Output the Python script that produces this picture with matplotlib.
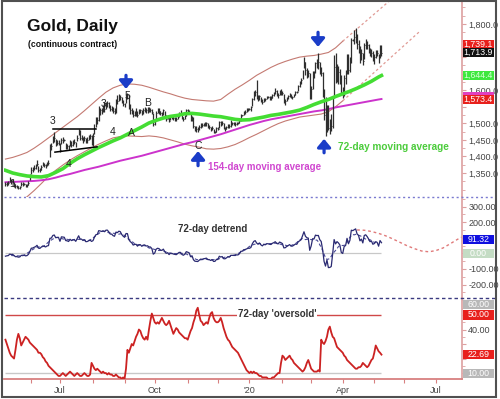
import numpy as np
import pandas as pd
import matplotlib
matplotlib.use('Agg')
import matplotlib.pyplot as plt
from matplotlib.patches import Rectangle
from matplotlib.lines import Line2D
from matplotlib.ticker import FixedLocator, FuncFormatter, MultipleLocator

plt.rcParams['font.family'] = ['Liberation Sans', 'DejaVu Sans']

# trading days on the chart (continuous contract) plus room for the projections
days = pd.bdate_range('2019-05-08', '2020-07-31')

# daily closes, one row per month (May 2019 .. May 2020)
close = ([1316, 1318, 1319, 1328, 1325, 1326, 1318, 1310, 1310, 1306, 1307, 1316, 1317, 1317, 1312, 1313, 1320, 1337]
         + [1359, 1360, 1365, 1369, 1378, 1360, 1359, 1368, 1376, 1374, 1371, 1378, 1381, 1429, 1432, 1450, 1455, 1439, 1442, 1443]
         + [1420, 1450, 1450, 1450, 1430, 1430, 1427, 1443, 1436, 1442, 1444, 1436, 1456, 1475, 1456, 1457, 1450, 1456, 1446, 1449, 1456, 1462, 1456]
         + [1463, 1487, 1506, 1511, 1538, 1539, 1539, 1547, 1544, 1557, 1561, 1553, 1542, 1545, 1538, 1537, 1567, 1567, 1580, 1581, 1567, 1559]
         + [1555, 1583, 1586, 1551, 1541, 1537, 1525, 1531, 1535, 1525, 1537, 1539, 1531, 1541, 1545, 1540, 1544, 1539, 1541, 1533, 1498]
         + [1506, 1532, 1539, 1538, 1530, 1529, 1539, 1524, 1514, 1519, 1508, 1519, 1518, 1515, 1514, 1513, 1521, 1530, 1531, 1518, 1514, 1522, 1539]
         + [1537, 1534, 1510, 1517, 1492, 1483, 1482, 1481, 1489, 1496, 1494, 1497, 1498, 1500, 1490, 1489, 1482, 1487, 1474, 1474, 1485]
         + [1484, 1504, 1498, 1500, 1485, 1483, 1488, 1495, 1491, 1501, 1500, 1500, 1498, 1502, 1501, 1508, 1524, 1524, 1534, 1535, 1539, 1543]
         + [1543, 1548, 1572, 1588, 1594, 1580, 1573, 1582, 1570, 1564, 1574, 1572, 1580, 1580, 1578, 1577, 1586, 1591, 1598, 1588, 1586, 1599, 1596]
         + [1591, 1564, 1566, 1575, 1582, 1588, 1579, 1580, 1587, 1595, 1595, 1613, 1621, 1630, 1658, 1686, 1660, 1652, 1652, 1575]
         + [1604, 1653, 1654, 1681, 1681, 1685, 1660, 1651, 1599, 1525, 1495, 1535, 1486, 1487, 1493, 1576, 1669, 1643, 1660, 1654, 1643, 1596]
         + [1591, 1637, 1645, 1693, 1660, 1684, 1752, 1752, 1761, 1769, 1739, 1731, 1698, 1711, 1688, 1738, 1745, 1736, 1723, 1707, 1713, 1694]
         + [1700, 1714, 1711, 1688, 1726, 1713.9])

# distance from close up to the high / down to the low
up = ([6, 5, 7, 9, 6, 5, 5, 7, 5, 6, 5, 8, 5, 3, 6, 5, 7, 10]
      + [8, 7, 9, 8, 10, 12, 7, 6, 8, 7, 6, 6, 7, 10, 10, 12, 20, 15, 9, 8]
      + [20, 6, 8, 3, 12, 9, 8, 7, 12, 9, 8, 9, 8, 8, 25, 9, 8, 7, 10, 9, 8, 7, 8]
      + [8, 10, 12, 8, 15, 8, 8, 8, 20, 8, 6, 10, 12, 8, 10, 8, 5, 19, 8, 5, 14, 12]
      + [5, 6, 6, 35, 16, 10, 14, 6, 10, 12, 6, 5, 8, 4, 3, 7, 4, 9, 5, 10, 34]
      + [6, 4, 6, 7, 8, 6, 5, 12, 10, 5, 10, 6, 6, 6, 6, 6, 6, 4, 8, 12, 6, 4, 4]
      + [7, 7, 25, 6, 26, 10, 10, 9, 5, 5, 6, 5, 6, 5, 10, 5, 8, 4, 10, 2, 3]
      + [6, 3, 8, 6, 15, 5, 4, 3, 8, 9, 5, 4, 5, 3, 4, 3, 3, 2, 4, 5, 6, 4]
      + [2, 4, 6, 10, 6, 51, 12, 4, 10, 9, 4, 6, 3, 2, 6, 6, 3, 4, 8, 12, 6, 3, 8]
      + [8, 24, 8, 4, 4, 3, 10, 4, 3, 3, 2, 3, 6, 6, 3, 14, 26, 15, 10, 76]
      + [10, 6, 4, 4, 12, 28, 25, 20, 55, 80, 85, 20, 70, 25, 34, 8, 38, 70, 20, 20, 20, 50]
      + [19, 10, 15, 15, 50, 15, 5, 2, 20, 19, 30, 20, 35, 15, 25, 5, 10, 14, 16, 20, 10, 25]
      + [10, 8, 10, 22, 10, 23])
dn = ([5, 6, 4, 6, 7, 5, 9, 6, 6, 5, 6, 4, 6, 3, 5, 6, 5, 8]
      + [12, 6, 7, 8, 7, 6, 6, 9, 6, 7, 6, 8, 6, 30, 12, 9, 10, 8, 8, 9]
      + [8, 12, 8, 3, 8, 7, 7, 10, 7, 9, 7, 8, 10, 9, 7, 8, 9, 10, 6, 8, 7, 9, 20]
      + [30, 18, 18, 12, 30, 14, 10, 12, 10, 15, 12, 8, 6, 8, 7, 10, 35, 10, 12, 10, 6, 6]
      + [5, 22, 12, 8, 14, 10, 5, 8, 12, 5, 8, 7, 7, 12, 12, 8, 12, 6, 8, 5, 6]
      + [10, 22, 7, 9, 5, 7, 13, 6, 6, 7, 5, 10, 6, 5, 6, 5, 8, 10, 6, 4, 6, 8, 18]
      + [9, 6, 4, 10, 5, 6, 8, 6, 8, 10, 6, 6, 6, 8, 4, 6, 4, 8, 3, 2, 11]
      + [5, 18, 6, 6, 3, 5, 6, 10, 5, 12, 5, 5, 5, 6, 4, 7, 16, 2, 10, 6, 5, 7]
      + [2, 10, 20, 18, 12, 8, 7, 12, 6, 6, 10, 6, 8, 2, 8, 6, 10, 8, 8, 5, 8, 12, 10]
      + [6, 3, 10, 9, 9, 9, 4, 8, 8, 8, 2, 14, 10, 10, 25, 20, 15, 15, 12, 3]
      + [30, 50, 17, 30, 15, 20, 10, 8, 20, 15, 34, 60, 6, 20, 15, 90, 93, 20, 35, 35, 25, 8]
      + [15, 55, 25, 45, 10, 30, 70, 2, 20, 25, 14, 20, 17, 20, 12, 45, 20, 12, 10, 5, 12, 6]
      + [20, 16, 8, 6, 30, 10])

# closes before the first bar (needed for the 72-day detrend)
pre_close = ([1343, 1351, 1357]
             + [1350, 1344, 1347, 1342, 1346, 1350, 1343, 1347, 1346, 1346, 1354, 1359, 1373, 1378, 1358, 1363, 1362, 1363, 1353, 1348]
             + [1330, 1323, 1319, 1320, 1318, 1332, 1324, 1331, 1344, 1329, 1337, 1336, 1336, 1337, 1344, 1348, 1354, 1348, 1342, 1327, 1330]
             + [1324, 1327, 1327, 1325, 1327, 1332, 1339, 1344, 1326, 1327, 1323, 1308, 1309, 1308, 1308, 1309, 1306, 1312, 1312, 1319, 1315, 1317]
             + [1316, 1302, 1313, 1314, 1318])

# weekly readings of the averages (every 5th bar) and the last value
ma72 = [1358, 1350, 1345, 1341, 1339, 1338, 1342, 1352, 1363, 1379, 1393, 1405, 1416, 1427, 1437, 1447, 1456, 1467,
        1478, 1489, 1501, 1509, 1516, 1521, 1524, 1529, 1530, 1528, 1525, 1522, 1520, 1516, 1512, 1510, 1511, 1515,
        1519, 1524, 1527, 1531, 1535, 1540, 1548, 1557, 1565, 1572, 1581, 1589, 1597, 1606, 1616, 1627, 1640, 1644.4]
ma154 = [1322, 1323, 1324, 1325, 1326, 1328, 1331, 1336, 1342, 1347, 1353, 1359, 1364, 1369, 1375, 1381, 1387, 1392,
         1397, 1402, 1408, 1414, 1420, 1426, 1432, 1438, 1443, 1449, 1455, 1461, 1467, 1474, 1481, 1488, 1495, 1501,
         1507, 1512, 1516, 1520, 1524, 1528, 1532, 1536, 1539, 1543, 1548, 1552, 1556, 1560, 1564, 1568, 1572, 1573.4]

# envelope (weekly readings up to Apr 1 2020) and its projection
env_upper = [1392, 1397, 1404, 1412, 1425, 1440, 1456, 1472, 1488, 1504, 1520, 1538, 1557, 1576, 1594, 1607,
             1615, 1619, 1618, 1615, 1609, 1602, 1595, 1589, 1582, 1576, 1572, 1570, 1568, 1567, 1572, 1588,
             1603, 1616, 1630, 1645, 1657, 1669, 1679, 1687, 1694, 1700, 1703, 1705, 1709, 1714, 1728, 1748]
env_lower = [1236, 1248, 1262, 1278, 1297, 1318, 1340, 1358, 1374, 1389, 1402, 1414, 1426, 1437, 1447, 1456,
             1460, 1462, 1461, 1460, 1462, 1460, 1456, 1450, 1444, 1437, 1432, 1428, 1423, 1422, 1424, 1429,
             1436, 1446, 1457, 1467, 1478, 1489, 1499, 1507, 1513, 1519, 1522, 1525, 1528, 1535, 1550, 1568]
proj_dates = ['2020-04-01', '2020-06-16']
proj_upper = [1748, 1950]
proj_lower = [1568, 1779]

# detrend projection
dt_proj_dates = ['2020-04-15', '2020-04-22', '2020-04-29', '2020-05-06', '2020-05-13', '2020-05-20', '2020-05-27',
                 '2020-06-03', '2020-06-10', '2020-06-17', '2020-06-24', '2020-07-01', '2020-07-08', '2020-07-15',
                 '2020-07-22', '2020-07-27']
dt_proj = [150, 148, 140, 128, 112, 92, 70, 48, 30, 15, 10, 18, 35, 62, 90, 104]

# 72-day 'oversold'
oversold = [33, 30, 27, 24, 22, 21, 20, 26, 33, 37, 34, 29, 31, 33, 35, 34, 33, 31, 30, 29,
            28, 27, 26, 24, 24, 23, 21, 20, 18, 17, 15, 14, 13, 12, 11, 10, 9, 8, 8, 9,
            10, 9, 8, 9, 10, 11, 10, 9, 8, 9, 10, 9, 8, 8, 9, 10, 9, 8, 8, 9,
            17, 15, 13, 12, 13, 12, 11, 10, 11, 10, 10, 9, 10, 9, 9, 8, 8, 9, 8, 7,
            7, 6, 7, 6, 13, 26, 24, 27, 30, 29, 32, 35, 37, 40, 39, 36, 34, 33, 35, 33,
            40, 46, 51, 48, 45, 44, 45, 44, 46, 48, 46, 44, 43, 44, 46, 43, 40, 37, 39, 41,
            40, 38, 37, 36, 35, 34, 34, 33, 36, 39, 41, 45, 48, 53, 55, 50, 46, 45, 43, 44,
            45, 44, 48, 51, 52, 48, 46, 45, 45, 46, 48, 45, 41, 38, 35, 33, 32, 30, 28, 27,
            26, 25, 24, 22, 20, 18, 16, 14, 12, 11, 10, 11, 10, 11, 10, 10, 9, 8, 8, 7,
            7, 7, 7, 6, 6, 6, 7, 7, 8, 9, 10, 10, 17, 22, 21, 19, 20, 21, 22, 20,
            19, 17, 16, 15, 14, 13, 12, 11, 12, 14, 17, 19, 16, 13, 12, 11, 11, 11, 12, 11,
            33, 31, 30, 32, 35, 40, 42, 38, 35, 34, 31, 28, 27, 26, 25, 24, 22, 21, 19, 18,
            17, 16, 15, 14, 13, 13, 14, 14, 15, 17, 16, 15, 14, 15, 17, 19, 20, 24, 29, 27,
            25, 24, 22.69]

# values shown in the right-hand tags
price_tags = [(1739.1, '1,739.1', '#e8201c'), (1713.9, '1,713.9', '#111111'),
              (1644.4, '1,644.4', '#3ee83e'), (1573.4, '1,573.4', '#e8201c')]
detrend_tags = [(91.32, '91.32', '#1010e0'), (0.0, '0.00', '#c4dcc4')]
osc_tags = [(60.0, '60.00', '#b8b8b8'), (50.0, '50.00', '#e8201c'),
            (22.69, '22.69', '#e8201c'), (10.0, '10.00', '#b8b8b8')]

# axis labels left visible beside the tags
price_ticks = [1350, 1400, 1450, 1500, 1600, 1800]
detrend_ticks = [-200, -100, 200, 300]
osc_ticks = [40]

close = np.array(close, dtype=float)
high = close + np.array(up)
low = close - np.array(dn)
n = len(close)
pos_all = np.arange(len(days))
x = pos_all[:n]
xw = np.append(pos_all[:n - 2:5], n - 1)
xe = pos_all[:len(env_upper) * 5:5]

full = pd.Series(np.concatenate([pre_close, close]))
detrend = (full - full.rolling(72).mean()).to_numpy()[len(pre_close):]
detrend_smooth = pd.Series(detrend).rolling(9, center=True).mean()

axis_red = '#dda0a0'
fig = plt.figure(figsize=(5, 3.99), dpi=100)
L, W = 0.008, 0.916
ax1 = fig.add_axes([L, 0.5063, W, 0.4912])
ax2 = fig.add_axes([L, 0.2531, W, 0.2532])
ax3 = fig.add_axes([L, 0.0501, W, 0.2030])

for ax in (ax1, ax2, ax3):
    ax.set_xlim(-1, 318.1)
    for s in ('top', 'left', 'bottom'):
        ax.spines[s].set_visible(False)
    ax.spines['right'].set_color(axis_red)
    ax.spines['right'].set_linewidth(1.2)
    ax.yaxis.tick_right()
    ax.tick_params(axis='y', which='both', direction='out', color=axis_red,
                   labelsize=6.5, labelcolor='#444444', pad=1.5)
    ax.tick_params(axis='y', which='major', length=3)
    ax.tick_params(axis='y', which='minor', length=2)
for ax in (ax1, ax2):
    ax.tick_params(axis='x', bottom=False, labelbottom=False)

# ---- price panel
ax1.set_ylim(1277.5, 1869.5)
ax1.plot(xe, env_upper, color='#c47a72', lw=0.8, zorder=1)
ax1.plot(xe, env_lower, color='#c47a72', lw=0.8, zorder=1)
px = days.get_indexer(pd.to_datetime(proj_dates))
ax1.plot(px, proj_upper, color='#e09a94', lw=0.9, ls=(0, (2, 2)), zorder=1)
ax1.plot(px, proj_lower, color='#e09a94', lw=0.9, ls=(0, (2, 2)), zorder=1)
ax1.plot(xw, ma154, color='#cc33cc', lw=1.4, zorder=2)
ax1.vlines(x, low, high, color='#2e2e2e', lw=0.9, zorder=3)
ax1.hlines(close, x, x + 0.5, color='#2e2e2e', lw=0.7, zorder=3)
ax1.plot(xw, ma72, color='#44dd33', lw=2.6, zorder=4)

ax1.yaxis.set_major_locator(FixedLocator(np.arange(1350, 1801, 50)))
ax1.yaxis.set_minor_locator(MultipleLocator(25))
ax1.yaxis.set_major_formatter(FuncFormatter(lambda v, p: f'{v:,.1f}' if v in price_ticks else ''))

# triangle
ax1.plot([33.1, 63.1], [1483, 1483], color='black', lw=1.1, zorder=5)
ax1.plot([34.5, 63.8], [1413, 1429], color='black', lw=1.1, zorder=5)

wave = [('1', 4.5, 1317), ('3', 33, 1507), ('4', 44, 1377), ('3', 68, 1558), ('5', 84.7, 1584),
        ('4', 75, 1474), ('A', 88, 1471), ('B', 99.3, 1561), ('C', 134, 1432)]
for t, wx, wy in wave:
    ax1.text(wx, wy, t, fontsize=7.5, color='#222222', ha='center', va='center', zorder=6)

arrow_kw = dict(arrowstyle='-|>,head_width=0.5,head_length=0.6', color='#1a3cc8', lw=2.3,
                mutation_scale=8, shrinkA=0, shrinkB=0)
for ax_, ay0, ay1 in [(84, 1645, 1604), (134.2, 1372, 1416), (217.8, 1775, 1731), (222, 1411, 1453)]:
    ax1.annotate('', xy=(ax_, ay1), xytext=(ax_, ay0), arrowprops=arrow_kw, zorder=6)

ax1.text(141.1, 1368, '154-day moving average', color='#d048d0', fontsize=7, fontweight='bold',
         ha='left', va='center', zorder=6)
ax1.text(231.7, 1429, '72-day moving average', color='#4ccc3c', fontsize=7.2, fontweight='bold',
         ha='left', va='center', zorder=6)

# ---- detrend panel
ax2.set_ylim(-286, 361)
ax2.hlines(0, 0, n - 1, color='#c8c8c8', lw=0.9, zorder=1)
ax2.plot(x, detrend, color='#2a2a72', lw=0.9, zorder=3)
ax2.plot(x, detrend_smooth, color='#4a4a96', lw=0.8, ls=(0, (3, 2)), zorder=2)
ax2.plot(days.get_indexer(pd.to_datetime(dt_proj_dates)), dt_proj, color='#e07a7a', lw=1.0,
         ls=(0, (2, 2)), zorder=2)
ax2.yaxis.set_major_locator(FixedLocator([-200, -100, 0, 100, 200, 300]))
ax2.yaxis.set_minor_locator(MultipleLocator(50))
ax2.yaxis.set_major_formatter(FuncFormatter(lambda v, p: f'{v:.2f}' if v in detrend_ticks else ''))
ax2.text(120.2, 156, '72-day detrend', color='#333333', fontsize=7, fontweight='bold',
         ha='left', va='center')

# ---- oversold panel
ax3.set_ylim(5.9, 61.7)
ax3.spines['bottom'].set_visible(True)
ax3.spines['bottom'].set_color('#d88080')
ax3.spines['bottom'].set_linewidth(1.3)
ax3.hlines(50, 0, n - 1, color='#d04848', lw=1.0, zorder=1)
ax3.hlines(10, 0, n - 1, color='#c8c8c8', lw=1.0, zorder=1)
ax3.plot(x, oversold, color='#cc2222', lw=1.3, zorder=3)
ax3.text(162, 50.7, "72-day 'oversold'", color='#333333', fontsize=7, fontweight='bold',
         ha='left', va='center', zorder=4,
         bbox=dict(facecolor='white', edgecolor='none', pad=0.5))
ax3.yaxis.set_major_locator(FixedLocator([10, 20, 30, 40, 50, 60]))
ax3.yaxis.set_minor_locator(MultipleLocator(5))
ax3.yaxis.set_major_formatter(FuncFormatter(lambda v, p: f'{v:.2f}' if v in osc_ticks else ''))

month_pos = [i for i in range(1, len(days)) if days[i].month != days[i - 1].month]
qlab = {7: 'Jul', 10: 'Oct', 1: "'20", 4: 'Apr'}
month_lab = [qlab.get(days[i].month, '') for i in month_pos]
ax3.set_xticks(month_pos)
ax3.set_xticklabels(month_lab)
ax3.tick_params(axis='x', direction='out', length=3, color='#d88080', labelsize=6.5,
                labelcolor='#444444', pad=2)

# ---- tags on the right
inv = fig.transFigure.inverted()
H = 0.0226


def tag(ax, val, txt, bg, fg='white'):
    fy = inv.transform(ax.transData.transform((0, val)))[1]
    top = ax.get_position().y1 - 0.004
    fy = min(fy, top - H / 2)  # keep the tag inside its panel
    fig.add_artist(Rectangle((0.925, fy - H / 2), 0.063, H, transform=fig.transFigure,
                             facecolor=bg, edgecolor='none', zorder=5))
    if txt:
        fig.text(0.9565, fy, txt, color=fg, fontsize=6.3, ha='center', va='center', zorder=6)


tag(ax1, 1581, '', '#e040c0')
for v, t, c in price_tags:
    tag(ax1, v, t, c, '#d8ffd8' if c == '#3ee83e' else 'white')
for v, t, c in detrend_tags:
    tag(ax2, v, t, c)
for v, t, c in osc_tags:
    tag(ax3, v, t, c)

# separators and frame
for yy, col, ls in [(1 - 197 / 399, '#7a7ad0', (0, (1.5, 2))), (1 - 298 / 399, '#3a3a80', (0, (2.5, 2)))]:
    fig.add_artist(Line2D([0.008, 0.992], [yy, yy], transform=fig.transFigure, color=col,
                          lw=1.0, ls=ls, zorder=7))
fig.add_artist(Rectangle((0.004, 0.005), 0.988, 0.9925, transform=fig.transFigure, fill=False,
                         edgecolor='#505050', lw=1.5, zorder=8))

fig.text(27 / 500, 1 - 31 / 399, 'Gold, Daily', fontsize=12.5, fontweight='bold', color='#111111',
         ha='left', va='baseline')
fig.text(28 / 500, 1 - 47 / 399, '(continuous contract)', fontsize=6.2, fontweight='bold',
         color='#111111', ha='left', va='baseline')

fig.savefig('out.png', dpi=100)
